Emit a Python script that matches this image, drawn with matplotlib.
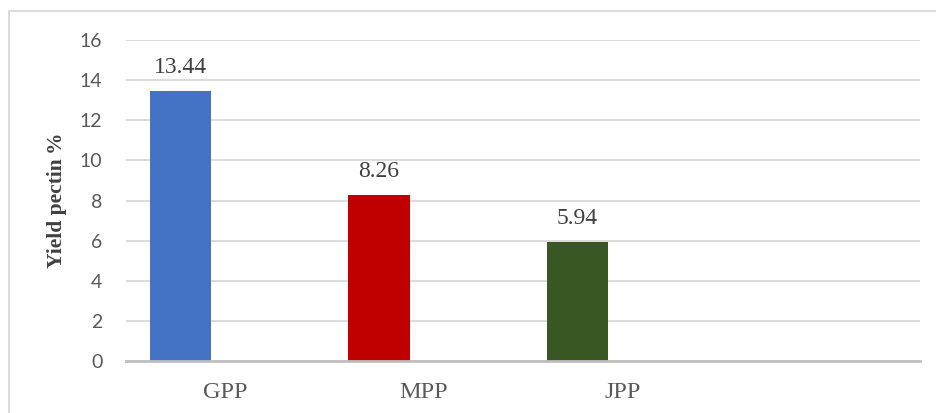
import matplotlib.pyplot as plt
from matplotlib.patches import Rectangle

categories = ['GPP', 'MPP', 'JPP', '']
yields = [13.44, 8.26, 5.94]
bar_colors = ['#4472C4', '#C00000', '#385723']
y_ticks = [0, 2, 4, 6, 8, 10, 12, 14, 16]

fig = plt.figure(figsize=(9.36, 4.13), dpi=100)
ax = fig.add_axes([126 / 936, 1 - 361 / 413, 794 / 936, 321 / 413])

# outer chart border (cropped on right/bottom like the original)
fig.patches.append(Rectangle((9 / 936, -0.05), 1.2, 1 - 11 / 413 + 0.05,
                             transform=fig.transFigure, fill=False,
                             edgecolor='#D9D9D9', linewidth=1.3))

xpos = [i - 0.225 for i in range(len(yields))]
bars = ax.bar(xpos, yields, width=0.31, color=bar_colors, zorder=3)

for x, v in zip(xpos, yields):
    ax.annotate('{:.2f}'.format(v), (x, v), xytext=(0, 13), textcoords='offset points',
                ha='center', va='baseline', fontsize=17,
                family='Liberation Serif', color='#404040')

ax.set_xlim(-0.5, 3.5)
ax.set_ylim(0, 16)
ax.set_yticks(y_ticks)
ax.set_xticks(range(len(categories)))
ax.set_xticklabels(categories, family='Liberation Serif', fontsize=17.5, color='#595959')
for lab in ax.get_yticklabels():
    lab.set_family('Lato')
    lab.set_fontsize(14)
    lab.set_color('#595959')

ax.tick_params(axis='both', length=0)
ax.tick_params(axis='y', pad=17)
ax.tick_params(axis='x', pad=15)

ax.grid(axis='y', color='#D9D9D9', linewidth=1.3, zorder=0)
for s in ['top', 'right', 'left']:
    ax.spines[s].set_visible(False)
ax.spines['bottom'].set_color('#BFBFBF')
ax.spines['bottom'].set_linewidth(2)
ax.spines['bottom'].set_zorder(4)

ax.set_ylabel('Yield pectin\u2009%', family='Liberation Serif', fontweight='bold',
              fontsize=15.5, color='#404040')
ax.yaxis.set_label_coords(-0.074, 0.5)

fig.savefig('out.png', dpi=100)
